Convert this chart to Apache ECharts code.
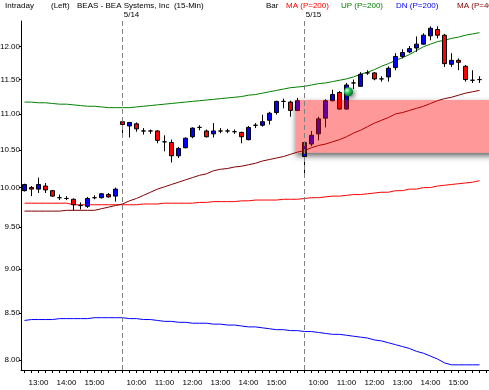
<!DOCTYPE html>
<html><head><meta charset="utf-8">
<script src="https://cdn.jsdelivr.net/npm/echarts@6/dist/echarts.min.js"></script>
<style>html,body{margin:0;padding:0;background:#fff}#c{width:489px;height:390px}</style>
</head><body><div id="c"></div>
<script>
// ---- categories (15-min bars) ----
const cats = [
'5/13 12:30','5/13 12:45','5/13 13:00','5/13 13:15','5/13 13:30','5/13 13:45','5/13 14:00','5/13 14:15','5/13 14:30','5/13 14:45','5/13 15:00','5/13 15:15','5/13 15:30','5/13 15:45',
'5/14 09:30','5/14 09:45','5/14 10:00','5/14 10:15','5/14 10:30','5/14 10:45','5/14 11:00','5/14 11:15','5/14 11:30','5/14 11:45','5/14 12:00','5/14 12:15','5/14 12:30','5/14 12:45','5/14 13:00','5/14 13:15','5/14 13:30','5/14 13:45','5/14 14:00','5/14 14:15','5/14 14:30','5/14 14:45','5/14 15:00','5/14 15:15','5/14 15:30','5/14 15:45',
'5/15 09:30','5/15 09:45','5/15 10:00','5/15 10:15','5/15 10:30','5/15 10:45','5/15 11:00','5/15 11:15','5/15 11:30','5/15 11:45','5/15 12:00','5/15 12:15','5/15 12:30','5/15 12:45','5/15 13:00','5/15 13:15','5/15 13:30','5/15 13:45','5/15 14:00','5/15 14:15','5/15 14:30','5/15 14:45','5/15 15:00','5/15 15:15','5/15 15:30','5/15 15:45',
' ','  '
];
// ---- candles: [open, close, low, high] ----
const candles = [
[9.96,10.04,9.95,10.05],[10.00,9.98,9.89,10.02],[9.98,10.04,9.93,10.13],[10.02,9.97,9.93,10.06],[9.96,9.89,9.88,9.97],
[9.87,9.87,9.84,9.91],[9.86,9.86,9.84,9.89],[9.85,9.78,9.71,9.86],[9.77,9.77,9.72,9.81],[9.76,9.86,9.74,9.88],
[9.87,9.87,9.85,9.90],[9.87,9.92,9.86,9.93],[9.91,9.88,9.87,9.93],[9.89,9.98,9.82,10.00],
[10.89,10.85,10.70,10.93],[10.83,10.88,10.67,10.88],[10.86,10.79,10.75,10.88],[10.76,10.76,10.71,10.80],[10.76,10.76,10.72,10.78],
[10.76,10.63,10.59,10.77],[10.61,10.61,10.48,10.70],[10.60,10.42,10.33,10.64],[10.42,10.52,10.39,10.54],[10.53,10.66,10.52,10.67],
[10.68,10.80,10.66,10.81],[10.81,10.81,10.77,10.84],[10.76,10.68,10.67,10.78],[10.72,10.76,10.67,10.87],[10.76,10.76,10.73,10.80],
[10.76,10.76,10.73,10.79],[10.75,10.75,10.72,10.78],[10.74,10.68,10.59,10.75],[10.64,10.81,10.63,10.83],[10.84,10.84,10.80,10.87],
[10.84,10.89,10.82,10.99],[10.91,11.01,10.85,11.03],[11.02,11.18,10.99,11.19],[11.18,11.18,11.08,11.22],[11.17,11.05,10.96,11.19],
[11.05,11.19,11.04,11.23],
[10.41,10.60,10.14,10.61],[10.58,10.70,10.55,10.76],[10.72,10.93,10.63,10.96],[10.94,11.19,10.81,11.21],[11.19,11.28,11.18,11.35],
[11.31,11.07,11.06,11.33],[11.07,11.42,11.06,11.45],[11.45,11.45,11.36,11.50],[11.40,11.58,11.40,11.61],[11.60,11.60,11.57,11.64],
[11.60,11.51,11.49,11.61],[11.51,11.51,11.47,11.55],[11.54,11.67,11.47,11.70],[11.68,11.85,11.64,11.90],[11.85,11.91,11.82,11.96],
[11.92,11.97,11.90,12.01],[11.98,12.04,11.92,12.16],[12.04,12.18,12.03,12.21],[12.17,12.29,12.10,12.32],[12.27,12.18,12.13,12.32],
[12.18,11.74,11.69,12.20],[11.73,11.79,11.69,11.90],[11.79,11.76,11.64,11.82],[11.70,11.50,11.47,11.72],[11.49,11.49,11.45,11.64],
[11.50,11.50,11.45,11.55]
];
// ---- indicators ----
const ma200 = [9.80,9.80,9.80,9.80,9.80,9.80,9.80,9.78,9.78,9.78,9.78,9.78,9.78,9.78,
9.78,9.78,9.78,9.79,9.79,9.79,9.80,9.80,9.80,9.80,9.80,9.81,9.81,9.82,9.82,9.82,9.82,9.83,9.83,9.84,9.84,9.84,9.84,9.85,9.85,9.85,
9.86,9.87,9.87,9.88,9.89,9.89,9.90,9.91,9.91,9.92,9.93,9.94,9.94,9.96,9.96,9.98,9.98,10.00,10.00,10.02,10.03,10.04,10.05,10.06,10.07,10.09];
const up200 = [11.17,11.17,11.16,11.16,11.15,11.14,11.14,11.13,11.12,11.11,11.11,11.10,11.09,11.09,
11.09,11.09,11.10,11.11,11.12,11.13,11.14,11.15,11.16,11.17,11.18,11.19,11.20,11.21,11.22,11.23,11.24,11.25,11.27,11.28,11.30,11.32,11.34,11.36,11.38,11.39,
11.40,11.42,11.44,11.45,11.47,11.49,11.51,11.54,11.58,11.61,11.65,11.70,11.74,11.79,11.83,11.88,11.94,12.00,12.04,12.08,12.10,12.13,12.15,12.18,12.20,12.22];
const dn200 = [8.42,8.43,8.43,8.43,8.43,8.44,8.44,8.44,8.44,8.44,8.45,8.45,8.45,8.45,
8.45,8.44,8.44,8.43,8.43,8.42,8.41,8.41,8.40,8.40,8.39,8.39,8.39,8.38,8.38,8.37,8.37,8.36,8.35,8.35,8.34,8.33,8.32,8.32,8.31,8.31,
8.30,8.30,8.29,8.28,8.27,8.27,8.26,8.25,8.24,8.23,8.21,8.20,8.18,8.16,8.14,8.12,8.09,8.07,8.04,8.01,7.97,7.95,7.95,7.95,7.95,7.95];
const ma40 = [9.70,9.70,9.70,9.70,9.70,9.70,9.71,9.71,9.71,9.71,9.71,9.73,9.75,9.77,
9.79,9.83,9.86,9.90,9.94,9.98,10.01,10.04,10.07,10.10,10.13,10.16,10.18,10.22,10.24,10.25,10.27,10.28,10.30,10.32,10.35,10.37,10.39,10.41,10.44,10.47,
10.49,10.53,10.56,10.58,10.61,10.64,10.68,10.73,10.77,10.82,10.87,10.91,10.95,11.00,11.02,11.05,11.08,11.11,11.15,11.19,11.22,11.24,11.27,11.30,11.32,11.34];
const yTicks = [8.00, 8.50, 9.00, 9.50, 10.00, 10.50, 11.00, 11.50, 12.00];
const dayStarts = [['5/14 09:30','5/14'], ['5/15 09:30','5/15']];
const zone = [['5/14 15:45', '  ', 11.20, 10.46]];
const marker = ['5/15 11:00', 11.32];
const header = [
  ['Intraday', '#000000', 5], ['(Left)', '#000000', 51], ['BEAS - BEA Systems, Inc  (15-Min)', '#000000', 77],
  ['Bar', '#000000', 266], ['MA (P=200)', '#ff0000', 286], ['UP (P=200)', '#008000', 341],
  ['DN (P=200)', '#0000ff', 396], ['MA (P=40)', '#800000', 457]
];

const FONT = '"Liberation Sans", Arial, sans-serif';
const chart = echarts.init(document.getElementById('c'));

function zoneRender(fillStyle) {
  return function (params, api) {
    const half = api.size([1, 0])[0] / 2;
    const p1 = api.coord([api.value(0), api.value(2)]);
    const p2 = api.coord([api.value(1), api.value(3)]);
    const x0 = p1[0] - half / 2;
    return { type: 'rect', shape: { x: x0, y: p1[1], width: p2[0] + half - x0, height: p2[1] - p1[1] }, style: fillStyle };
  };
}

chart.setOption({
  animation: false,
  backgroundColor: '#ffffff',
  textStyle: { fontFamily: FONT },
  grid: { left: 21, top: 21, width: cats.length * 7, height: 349, containLabel: false, outerBoundsMode: 'none' },
  xAxis: {
    type: 'category', data: cats, boundaryGap: true,
    axisLine: { lineStyle: { color: '#000', width: 1 } },
    axisTick: { show: true, interval: 0, alignWithLabel: true, length: 3, lineStyle: { color: '#000' } },
    axisLabel: { interval: (i, v) => /:00$/.test(v), formatter: v => (v.trim() ? v.split(' ')[1] : ''), color: '#000', fontSize: 8, fontFamily: FONT, margin: 9 },
    splitLine: { show: false }
  },
  yAxis: {
    type: 'log', logBase: 10, min: 7.897, max: 12.406, scale: true,
    axisLine: { show: true, lineStyle: { color: '#000', width: 1 } },
    axisTick: { show: true, customValues: yTicks, length: 2, lineStyle: { color: '#000' } },
    axisLabel: { customValues: yTicks, formatter: v => Number(v).toFixed(2), color: '#000', fontSize: 8, fontFamily: FONT, margin: 1 },
    splitLine: { show: false }, minorTick: { show: false }
  },
  graphic: header.map(h => ({ type: 'text', left: h[2], top: 2, style: { text: h[0], fill: h[1], font: '8px ' + FONT } })),
  series: [
    { type: 'custom', name: 'zoneShadow', z: 1, silent: true, data: zone, encode: { x: [0, 1], y: [2, 3] },
      renderItem: zoneRender({ fill: '#ffffff', shadowBlur: 6, shadowOffsetY: 3, shadowColor: 'rgba(0,0,0,0.6)' }) },
    { type: 'line', name: 'MA (P=200)', data: ma200, z: 2, showSymbol: false, lineStyle: { color: '#ff0000', width: 1 } },
    { type: 'line', name: 'UP (P=200)', data: up200, z: 2, showSymbol: false, lineStyle: { color: '#008000', width: 1 } },
    { type: 'line', name: 'DN (P=200)', data: dn200, z: 2, showSymbol: false, lineStyle: { color: '#0000ff', width: 1 } },
    { type: 'line', name: 'MA (P=40)', data: ma40, z: 2, showSymbol: false, lineStyle: { color: '#800000', width: 1 } },
    { type: 'candlestick', name: 'BEAS', data: candles, z: 3, barWidth: 4,
      itemStyle: { color: '#0000ff', color0: '#ff0000', borderColor: '#000', borderColor0: '#000', borderColorDoji: '#000', borderWidth: 1 },
      markLine: { silent: true, symbol: ['none', 'none'], animation: false,
        lineStyle: { color: '#808080', type: [5, 3], width: 1 },
        label: { show: true, position: 'end', formatter: p => p.name, color: '#000', fontSize: 8, fontFamily: FONT, offset: [9, 3] },
        data: dayStarts.map(d => ({ xAxis: d[0], name: d[1] })) },
      markPoint: { silent: true, animation: false,
        data: [{ coord: marker, symbol: 'circle', symbolSize: 9, symbolOffset: [2, 0], label: { show: false },
          itemStyle: { color: { type: 'radial', x: 0.35, y: 0.35, r: 0.7, colorStops: [{ offset: 0, color: '#d8ffd8' }, { offset: 0.4, color: '#33cc66' }, { offset: 1, color: '#006622' }] },
            shadowBlur: 4, shadowOffsetX: 2, shadowOffsetY: 2, shadowColor: 'rgba(0,0,0,0.5)' } }] } },
    { type: 'custom', name: 'zone', z: 4, silent: true, data: zone, encode: { x: [0, 1], y: [2, 3] },
      renderItem: zoneRender({ fill: 'rgba(255,0,0,0.4)' }) }
  ]
});
</script></body></html>
